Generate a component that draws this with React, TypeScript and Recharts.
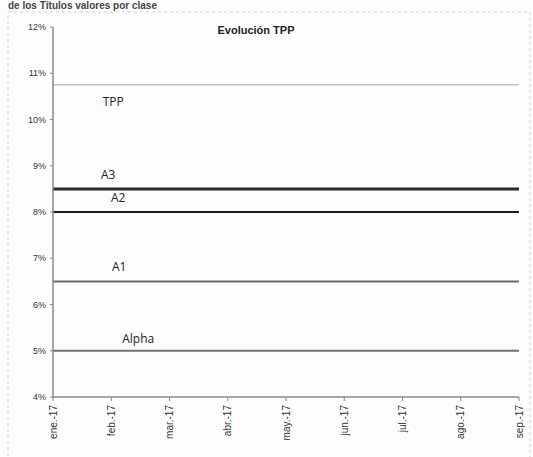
import React from "react";
import { LineChart, Line, XAxis, YAxis, Customized } from "recharts";

const months = ["ene.-17", "feb.-17", "mar.-17", "abr.-17", "may.-17", "jun.-17", "jul.-17", "ago.-17", "sep.-17"];
const tppValues = [10.75, 10.75, 10.75, 10.75, 10.75, 10.75, 10.75, 10.75, 10.75];
const a3Values = [8.5, 8.5, 8.5, 8.5, 8.5, 8.5, 8.5, 8.5, 8.5];
const a2Values = [8.0, 8.0, 8.0, 8.0, 8.0, 8.0, 8.0, 8.0, 8.0];
const a1Values = [6.5, 6.5, 6.5, 6.5, 6.5, 6.5, 6.5, 6.5, 6.5];
const alphaValues = [5.0, 5.0, 5.0, 5.0, 5.0, 5.0, 5.0, 5.0, 5.0];
const yTicks = [4, 5, 6, 7, 8, 9, 10, 11, 12];

const data = months.map((m, i) => ({
  month: m,
  tpp: tppValues[i],
  a3: a3Values[i],
  a2: a2Values[i],
  a1: a1Values[i],
  alpha: alphaValues[i],
}));

const FONT = "'Liberation Sans', Arial, sans-serif";

const makeLabel = (text: string, dx: number, dy: number) => (props: any) => {
  const { x, y, index } = props;
  if (index !== 1) return null;
  return (
    <text
      x={x + dx}
      y={y + dy}
      textAnchor="middle"
      fontFamily="'Open Sans', sans-serif"
      fontSize={12}
      fill="#222"
    >
      {text}
    </text>
  );
};

const XTick = (props: any) => {
  const { x, y, payload } = props;
  return (
    <text
      x={x}
      y={y}
      transform={`rotate(-90 ${x} ${y})`}
      textAnchor="end"
      dominantBaseline="central"
      fontFamily={FONT}
      fontSize={10}
      fill="#333"
    >
      {payload.value}
    </text>
  );
};

export default function App() {
  return (
    <div style={{ position: "absolute", left: 0, top: 0, width: 533, height: 457, background: "#fdfdfd" }}>
      <LineChart
        width={533}
        height={457}
        data={data}
        margin={{ top: 27, right: 14, left: 0, bottom: 0 }}
      >
        <Customized
          component={() => (
            <g>
              <rect x={8} y={12} width={522} height={450} fill="none" stroke="#cfcfcf" strokeDasharray="3 3" strokeWidth={1} />
              <text x={8} y={9} fontFamily={FONT} fontSize={10} fontWeight="bold" fill="#444">
                de los Títulos valores por clase
              </text>
              <text x={256} y={34} textAnchor="middle" fontFamily={FONT} fontSize={11} fontWeight="bold" fill="#222">
                Evolución TPP
              </text>
            </g>
          )}
        />
        <XAxis
          dataKey="month"
          interval={0}
          height={60}
          tick={<XTick />}
          tickSize={4}
          tickMargin={4}
          axisLine={{ stroke: "#888", strokeWidth: 1.5 }}
          tickLine={{ stroke: "#888" }}
        />
        <YAxis
          domain={[4, 12]}
          ticks={yTicks}
          width={53}
          tickFormatter={(v: number) => `${v}%`}
          tick={{ fontFamily: FONT, fontSize: 9, fill: "#333" }}
          tickSize={3}
          tickMargin={4}
          axisLine={{ stroke: "#888", strokeWidth: 1.5 }}
          tickLine={{ stroke: "#888" }}
        />
        <Line dataKey="tpp" stroke="#c4c4c4" strokeWidth={1.5} dot={false} isAnimationActive={false} label={makeLabel("TPP", 2, 21)} />
        <Line dataKey="a3" stroke="#2a2a2a" strokeWidth={3} dot={false} isAnimationActive={false} label={makeLabel("A3", -3, -10)} />
        <Line dataKey="a2" stroke="#1e1e1e" strokeWidth={2} dot={false} isAnimationActive={false} label={makeLabel("A2", 7, -10)} />
        <Line dataKey="a1" stroke="#6a6a6a" strokeWidth={2} dot={false} isAnimationActive={false} label={makeLabel("A1", 8, -10)} />
        <Line dataKey="alpha" stroke="#727272" strokeWidth={2} dot={false} isAnimationActive={false} label={makeLabel("Alpha", 27, -8)} />
      </LineChart>
    </div>
  );
}
